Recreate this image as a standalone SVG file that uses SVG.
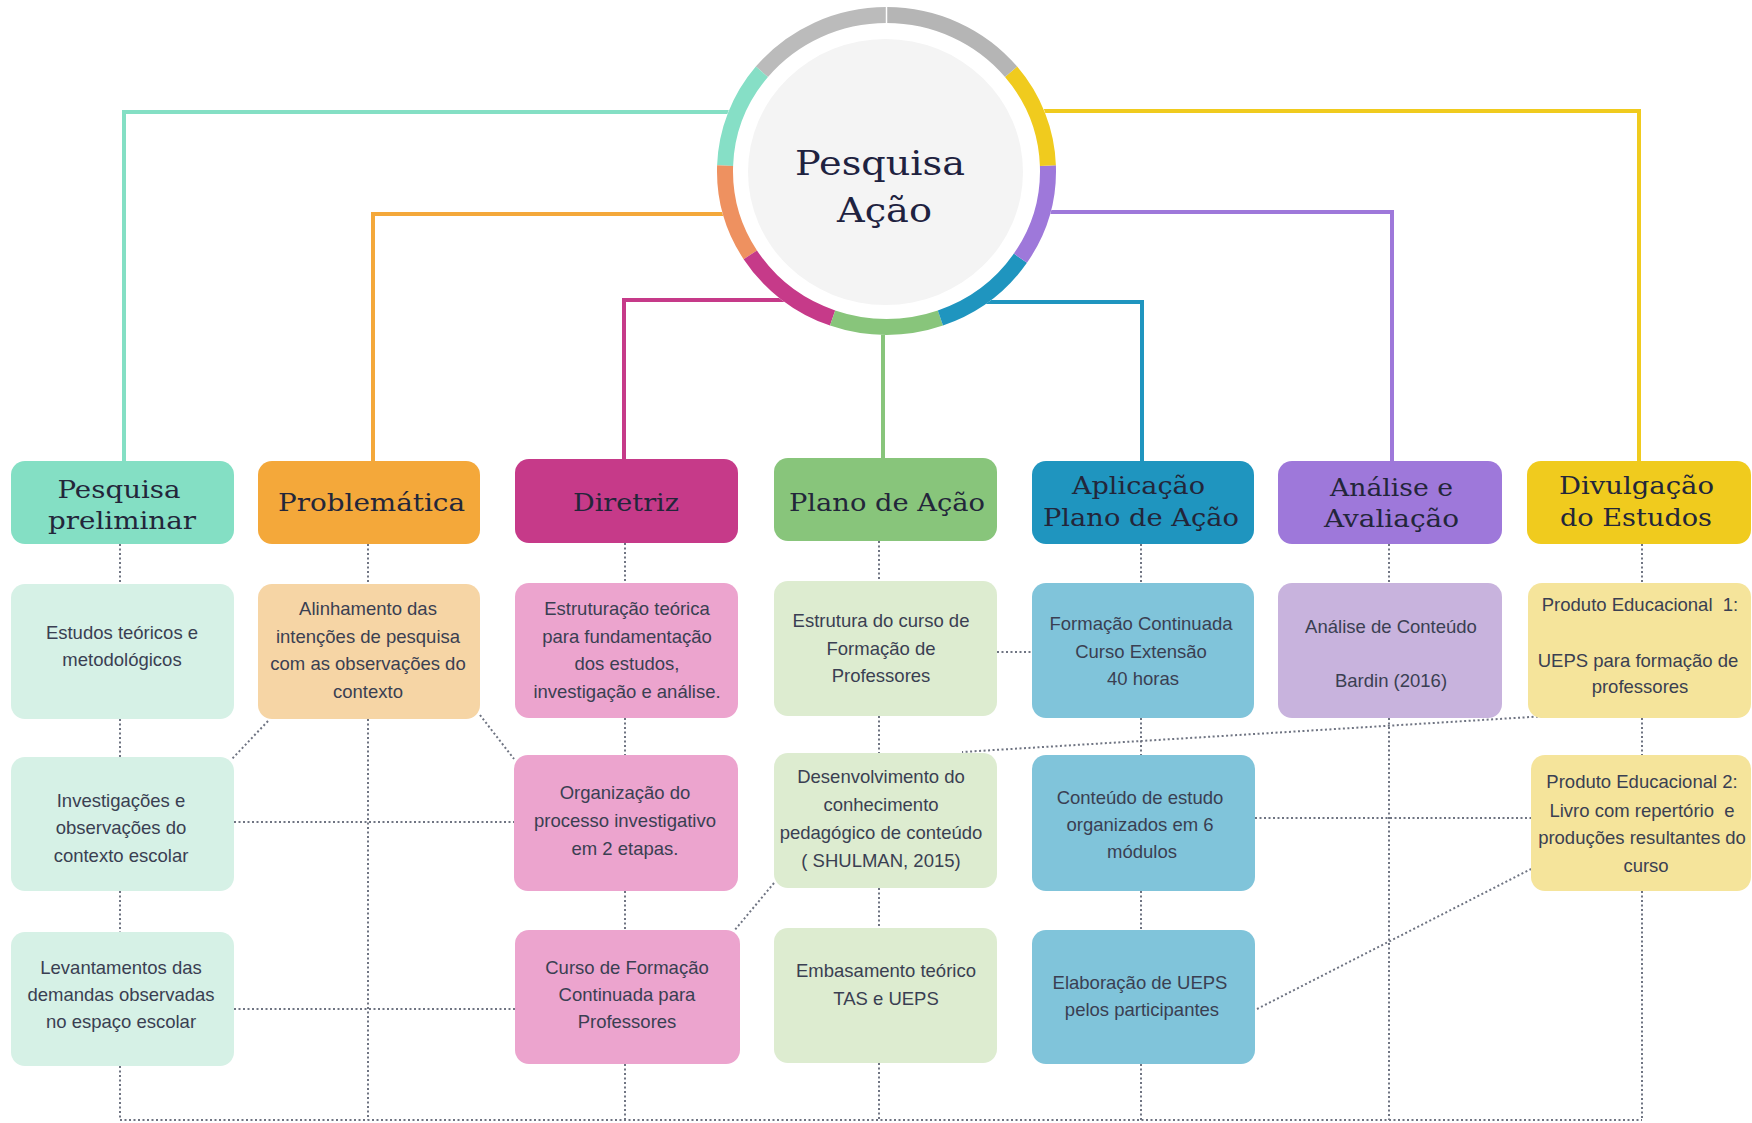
<svg xmlns="http://www.w3.org/2000/svg" width="1752" height="1123" viewBox="0 0 1752 1123">
<style>
.h{font-family:"DejaVu Serif","Liberation Serif",serif;font-size:24px;fill:#23263a;text-anchor:middle}
.c{font-family:"DejaVu Serif","Liberation Serif",serif;font-size:34px;fill:#1e2240;text-anchor:middle}
.t{font-family:"Liberation Sans",Arial,sans-serif;font-size:18.5px;fill:#3a3f52;text-anchor:middle}
.solid{fill:none;stroke-width:4}
.dot{fill:none;stroke:#6f7482;stroke-width:2;stroke-dasharray:2 2.5}
.ring{fill:none;stroke-width:16}
</style>
<rect width="1752" height="1123" fill="#ffffff"/>
<g id="connectors">
<path class="solid" stroke="#84dfc4" d="M760,112 H124 V462"/>
<path class="solid" stroke="#f4a83a" d="M760,214 H373 V462"/>
<path class="solid" stroke="#c63a89" d="M800,300 H624 V460"/>
<path class="solid" stroke="#88c57b" d="M883,320 V459"/>
<path class="solid" stroke="#1f95bf" d="M970,302 H1142 V462"/>
<path class="solid" stroke="#9e78da" d="M1020,212 H1392 V462"/>
<path class="solid" stroke="#f0cb1e" d="M1020,111 H1639 V462"/>
<path class="dot" d="M120,544V584 M120,719V757 M120,891V932 M120,1066V1120"/>
<path class="dot" d="M368,544V584 M368,719V1120"/>
<path class="dot" d="M625,543V583 M625,718V755 M625,891V930 M625,1064V1120"/>
<path class="dot" d="M879,541V581 M879,716V753 M879,888V928 M879,1063V1120"/>
<path class="dot" d="M1141,544V583 M1141,718V755 M1141,891V930 M1141,1064V1120"/>
<path class="dot" d="M1389,544V583 M1389,718V1120"/>
<path class="dot" d="M1642,544V583 M1642,718V755 M1642,891V1120"/>
<path class="dot" d="M234,822H514 M234,1009H515 M997,652H1032 M1255,818H1531 M120,1120H1642"/>
<path class="dot" d="M268,721L231,760 M480,715L514,759 M774,883L734,931 M1547,716L962,752 M1257,1009L1531,869"/>
</g>
<g id="node-center">
<ellipse cx="886.5" cy="171" rx="170" ry="164" fill="#ffffff"/>
<path class="ring" stroke="#bbbbbb" d="M886.5,15 A161.5,156 0 0 0 761.9,71.8"/>
<path class="ring" stroke="#86dfc6" d="M761.9,71.8 A161.5,156 0 0 0 725.1,165.6"/>
<path class="ring" stroke="#ee9160" d="M725.1,165.6 A161.5,156 0 0 0 750.3,254.8"/>
<path class="ring" stroke="#c63a89" d="M750.3,254.8 A161.5,156 0 0 0 832.6,318"/>
<path class="ring" stroke="#88c57b" d="M832.6,318 A161.5,156 0 0 0 940.4,318"/>
<path class="ring" stroke="#1f95bf" d="M940.4,318 A161.5,156 0 0 0 1020.4,258.2"/>
<path class="ring" stroke="#9e78da" d="M1020.4,258.2 A161.5,156 0 0 0 1047.9,165.6"/>
<path class="ring" stroke="#f0cb1e" d="M1047.9,165.6 A161.5,156 0 0 0 1011.1,71.8"/>
<path class="ring" stroke="#b5b5b5" d="M1011.1,71.8 A161.5,156 0 0 0 886.5,15"/>
<line x1="886.5" y1="5" x2="886.5" y2="25" stroke="#ffffff" stroke-width="1.5"/>
<ellipse cx="885.5" cy="172" rx="137.5" ry="133" fill="#f4f4f4"/>
<text class="c" x="880" y="175" textLength="170" lengthAdjust="spacingAndGlyphs">Pesquisa</text>
<text class="c" x="884.5" y="222" textLength="95" lengthAdjust="spacingAndGlyphs">Ação</text>
</g>
<g id="node-pesquisa-preliminar">
<rect x="11" y="461" width="223" height="83" rx="14" fill="#84dfc4"/>
<text class="h" x="119" y="498" textLength="123" lengthAdjust="spacingAndGlyphs">Pesquisa</text>
<text class="h" x="122" y="529" textLength="148" lengthAdjust="spacingAndGlyphs">preliminar</text>
</g>
<g id="node-problematica">
<rect x="258" y="461" width="222" height="83" rx="14" fill="#f4a83a"/>
<text class="h" x="371.5" y="511" textLength="187" lengthAdjust="spacingAndGlyphs">Problemática</text>
</g>
<g id="node-diretriz">
<rect x="515" y="459" width="223" height="84" rx="14" fill="#c63a89"/>
<text class="h" x="626" y="511" textLength="106" lengthAdjust="spacingAndGlyphs">Diretriz</text>
</g>
<g id="node-plano-de-acao">
<rect x="774" y="458" width="223" height="83" rx="14" fill="#88c57b"/>
<text class="h" x="887" y="511" textLength="196" lengthAdjust="spacingAndGlyphs">Plano de Ação</text>
</g>
<g id="node-aplicacao">
<rect x="1032" y="461" width="222" height="83" rx="14" fill="#1f95bf"/>
<text class="h" x="1138.5" y="494" textLength="133" lengthAdjust="spacingAndGlyphs">Aplicação</text>
<text class="h" x="1141" y="526" textLength="196" lengthAdjust="spacingAndGlyphs">Plano de Ação</text>
</g>
<g id="node-analise">
<rect x="1278" y="461" width="224" height="83" rx="14" fill="#9e78da"/>
<text class="h" x="1391.5" y="496" textLength="123" lengthAdjust="spacingAndGlyphs">Análise e</text>
<text class="h" x="1391.5" y="527" textLength="135" lengthAdjust="spacingAndGlyphs">Avaliação</text>
</g>
<g id="node-divulgacao">
<rect x="1527" y="461" width="224" height="83" rx="14" fill="#f0cb1e"/>
<text class="h" x="1636.5" y="494" textLength="155" lengthAdjust="spacingAndGlyphs">Divulgação</text>
<text class="h" x="1636" y="526" textLength="152" lengthAdjust="spacingAndGlyphs">do Estudos</text>
</g>
<g id="node-estudos">
<rect x="11" y="584" width="223" height="135" rx="14" fill="#d6f1e6"/>
<text class="t" x="122" y="639">Estudos teóricos e</text>
<text class="t" x="122" y="666">metodológicos</text>
</g>
<g id="node-investigacoes">
<rect x="11" y="757" width="223" height="134" rx="14" fill="#d6f1e6"/>
<text class="t" x="121" y="807">Investigações e</text>
<text class="t" x="121" y="834">observações do</text>
<text class="t" x="121" y="862">contexto escolar</text>
</g>
<g id="node-levantamentos">
<rect x="11" y="932" width="223" height="134" rx="14" fill="#d6f1e6"/>
<text class="t" x="121" y="974">Levantamentos das</text>
<text class="t" x="121" y="1001">demandas observadas</text>
<text class="t" x="121" y="1028">no espaço escolar</text>
</g>
<g id="node-alinhamento">
<rect x="258" y="584" width="222" height="135" rx="14" fill="#f6d5a5"/>
<text class="t" x="368" y="615">Alinhamento das</text>
<text class="t" x="368" y="642.5">intenções de pesquisa</text>
<text class="t" x="368" y="670">com as observações do</text>
<text class="t" x="368" y="697.5">contexto</text>
</g>
<g id="node-estruturacao">
<rect x="515" y="583" width="223" height="135" rx="14" fill="#eca4ce"/>
<text class="t" x="627" y="615">Estruturação teórica</text>
<text class="t" x="627" y="642.5">para fundamentação</text>
<text class="t" x="627" y="670">dos estudos,</text>
<text class="t" x="627" y="697.5">investigação e análise.</text>
</g>
<g id="node-organizacao">
<rect x="514" y="755" width="224" height="136" rx="14" fill="#eca4ce"/>
<text class="t" x="625" y="799">Organização do</text>
<text class="t" x="625" y="827">processo investigativo</text>
<text class="t" x="625" y="855">em 2 etapas.</text>
</g>
<g id="node-curso">
<rect x="515" y="930" width="225" height="134" rx="14" fill="#eca4ce"/>
<text class="t" x="627" y="974">Curso de Formação</text>
<text class="t" x="627" y="1001">Continuada para</text>
<text class="t" x="627" y="1028">Professores</text>
</g>
<g id="node-estrutura">
<rect x="774" y="581" width="223" height="135" rx="14" fill="#ddecd0"/>
<text class="t" x="881" y="627">Estrutura do curso de</text>
<text class="t" x="881" y="654.5">Formação de</text>
<text class="t" x="881" y="682">Professores</text>
</g>
<g id="node-desenvolvimento">
<rect x="774" y="753" width="223" height="135" rx="14" fill="#ddecd0"/>
<text class="t" x="881" y="783">Desenvolvimento do</text>
<text class="t" x="881" y="811">conhecimento</text>
<text class="t" x="881" y="839">pedagógico de conteúdo</text>
<text class="t" x="881" y="867">( SHULMAN, 2015)</text>
</g>
<g id="node-embasamento">
<rect x="774" y="928" width="223" height="135" rx="14" fill="#ddecd0"/>
<text class="t" x="886" y="977">Embasamento teórico</text>
<text class="t" x="886" y="1005">TAS e UEPS</text>
</g>
<g id="node-formacao">
<rect x="1032" y="583" width="222" height="135" rx="14" fill="#80c4da"/>
<text class="t" x="1141" y="630">Formação Continuada</text>
<text class="t" x="1141" y="657.5">Curso Extensão</text>
<text class="t" x="1143" y="685">40 horas</text>
</g>
<g id="node-conteudo">
<rect x="1032" y="755" width="223" height="136" rx="14" fill="#80c4da"/>
<text class="t" x="1140" y="804">Conteúdo de estudo</text>
<text class="t" x="1140" y="831">organizados em 6</text>
<text class="t" x="1142" y="858">módulos</text>
</g>
<g id="node-elaboracao">
<rect x="1032" y="930" width="223" height="134" rx="14" fill="#80c4da"/>
<text class="t" x="1140" y="989">Elaboração de UEPS</text>
<text class="t" x="1142" y="1016">pelos participantes</text>
</g>
<g id="node-analise-conteudo">
<rect x="1278" y="583" width="224" height="135" rx="14" fill="#c8b3dd"/>
<text class="t" x="1391" y="633">Análise de Conteúdo</text>
<text class="t" x="1391" y="687">Bardin (2016)</text>
</g>
<g id="node-produto1">
<rect x="1528" y="583" width="223" height="135" rx="14" fill="#f5e49b"/>
<text class="t" x="1640" y="611" xml:space="preserve">Produto Educacional  1:</text>
<text class="t" x="1638" y="667">UEPS para formação de</text>
<text class="t" x="1640" y="693">professores</text>
</g>
<g id="node-produto2">
<rect x="1531" y="755" width="220" height="136" rx="14" fill="#f5e49b"/>
<text class="t" x="1642" y="788">Produto Educacional 2:</text>
<text class="t" x="1642" y="817" xml:space="preserve">Livro com repertório  e</text>
<text class="t" x="1642" y="844">produções resultantes do</text>
<text class="t" x="1646" y="872">curso</text>
</g>
</svg>
